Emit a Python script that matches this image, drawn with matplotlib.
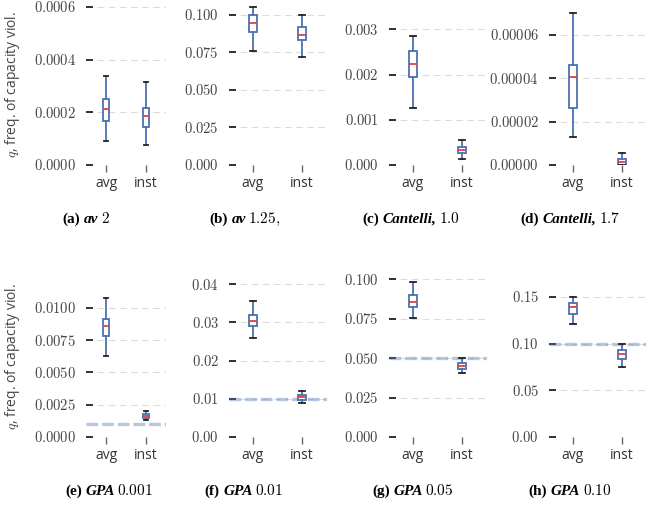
import matplotlib
matplotlib.use('agg')
import matplotlib.pyplot as plt
from matplotlib.ticker import MultipleLocator, FuncFormatter

plt.rcParams['mathtext.fontset'] = 'cm'
plt.rcParams['font.family'] = ['Open Sans', 'DejaVu Sans']
plt.rcParams['axes.axisbelow'] = True

groups = ['avg', 'inst']

# five-number summaries: whisker low, q1, median, q3, whisker high
av2_avg = [0.0000911, 0.000167, 0.000214, 0.000251, 0.000338]
av2_inst = [0.000076, 0.000146, 0.000185, 0.000216, 0.000315]
av125_avg = [0.0755, 0.0882, 0.0945, 0.0995, 0.1051]
av125_inst = [0.0716, 0.0831, 0.0862, 0.0915, 0.100]
cant10_avg = [0.00125, 0.00195, 0.00223, 0.00251, 0.00286]
cant10_inst = [0.00014, 0.00027, 0.00033, 0.00039, 0.00055]
cant17_avg = [0.0000131, 0.0000262, 0.0000405, 0.0000462, 0.0000700]
cant17_inst = [0.0, 0.0, 0.0000012, 0.0000026, 0.0000057]
gpa001_avg = [0.00628, 0.00780, 0.00858, 0.00910, 0.01072]
gpa001_inst = [0.00129, 0.00145, 0.00163, 0.00178, 0.00199]
gpa01_avg = [0.0260, 0.0289, 0.0304, 0.0319, 0.0356]
gpa01_inst = [0.0089, 0.00978, 0.0104, 0.01092, 0.01214]
gpa05_avg = [0.0751, 0.0825, 0.0856, 0.0896, 0.0981]
gpa05_inst = [0.0402, 0.0429, 0.0448, 0.0471, 0.0503]
gpa10_avg = [0.1207, 0.1321, 0.1389, 0.1439, 0.150]
gpa10_inst = [0.075, 0.0839, 0.0886, 0.0929, 0.0993]

# target level (dashed band) for the GPA runs
targets = [None, None, None, None, 0.001, 0.01, 0.05, 0.10]

cap_letters = ['(a)', '(b)', '(c)', '(d)', '(e)', '(f)', '(g)', '(h)']
cap_names = ['av', 'av', 'Cantelli,', 'Cantelli,', 'GPA', 'GPA', 'GPA', 'GPA']
cap_values = ['2', '1.25,', '1.0', '1.7', '0.001', '0.01', '0.05', '0.10']

series = [(av2_avg, av2_inst), (av125_avg, av125_inst),
          (cant10_avg, cant10_inst), (cant17_avg, cant17_inst),
          (gpa001_avg, gpa001_inst), (gpa01_avg, gpa01_inst),
          (gpa05_avg, gpa05_inst), (gpa10_avg, gpa10_inst)]

# axis settings per panel
tick_steps = [0.0002, 0.025, 0.001, 0.00002, 0.0025, 0.01, 0.025, 0.05]
tick_dec = [4, 3, 3, 5, 4, 2, 3, 2]
ymax = [0.000611, 0.107, 0.00356, 0.0000743, 0.01245, 0.0421, 0.1019, 0.1725]

# layout in pixels
W, H = 659, 514
col_left = [86, 228.5, 388.5, 548.5]
col_width = [80, 98, 98, 98]
row_top = [4, 276]
row_bottom = [165, 437]
cap_center = [86, 245, 411, 570, 109, 244, 413, 570]
cap_y = [223, 495]

blue = '#4C72B0'
red = '#E0403E'

fig = plt.figure(figsize=(W / 100, H / 100), dpi=100)

for i in range(8):
    r, c = divmod(i, 4)
    ax = fig.add_axes([col_left[c] / W, 1 - row_bottom[r] / H,
                       col_width[c] / W, (row_bottom[r] - row_top[r]) / H])
    stats = []
    for lab, s in zip(groups, series[i]):
        stats.append(dict(label=lab, whislo=s[0], q1=s[1], med=s[2], q3=s[3],
                          whishi=s[4], fliers=[]))
    ax.bxp(stats, positions=[1, 2], widths=0.17, capwidths=0.12,
           patch_artist=True, showfliers=False,
           boxprops=dict(facecolor='white', edgecolor=blue, linewidth=1.3),
           whiskerprops=dict(color=blue, linewidth=1.3),
           capprops=dict(color='#222222', linewidth=1.3),
           medianprops=dict(color=red, linewidth=1.3),
           zorder=3)
    if targets[i] is not None:
        ax.axhline(targets[i], color=blue, alpha=0.4, lw=2.4,
                   ls=(0, (3.5, 1.2)), zorder=1.5)
    ax.set_xlim(0.5, 2.5)
    ax.set_ylim(0, ymax[i])
    ax.yaxis.set_major_locator(MultipleLocator(tick_steps[i]))
    d = tick_dec[i]
    ax.yaxis.set_major_formatter(FuncFormatter(lambda v, p, d=d: f'${v:.{d}f}$'))
    ax.grid(axis='y', color='#dcdcdc', lw=0.8, ls=(0, (6, 4)))
    for sp in ax.spines.values():
        sp.set_visible(False)
    ax.tick_params(axis='y', direction='in', length=5, width=1.3, color='#222222',
                   pad=7, labelsize=10.5, labelcolor='#444444')
    ax.tick_params(axis='x', direction='out', length=5, width=1, color='#666666',
                   pad=3, labelsize=10, labelcolor='#333333')

# y labels
for r in range(2):
    fig.text(13 / W, 1 - (row_top[r] + row_bottom[r]) / 2 / H,
             '$q$, freq. of capacity viol.', rotation=90, ha='center',
             va='center', size=10, color='#444444')

# captions made of several pieces, centred under each panel
renderer = fig.canvas.get_renderer()
for i in range(8):
    r, c = divmod(i, 4)
    parts = [(cap_letters[i], dict(family='Liberation Serif', weight='bold')),
             (cap_names[i], dict(family='Liberation Serif', weight='bold', style='italic')),
             ('$' + cap_values[i] + '$', dict())]
    texts = [fig.text(0, 1 - cap_y[r] / H, s, va='baseline', size=11, **kw)
             for s, kw in parts]
    widths = [t.get_window_extent(renderer).width for t in texts]
    gaps = [3.5, 2.5]
    x = cap_center[i] - (sum(widths) + sum(gaps)) / 2
    for t, w, g in zip(texts, widths, gaps + [0]):
        t.set_x(x / W)
        x += w + g

fig.savefig('out.png', dpi=100)
